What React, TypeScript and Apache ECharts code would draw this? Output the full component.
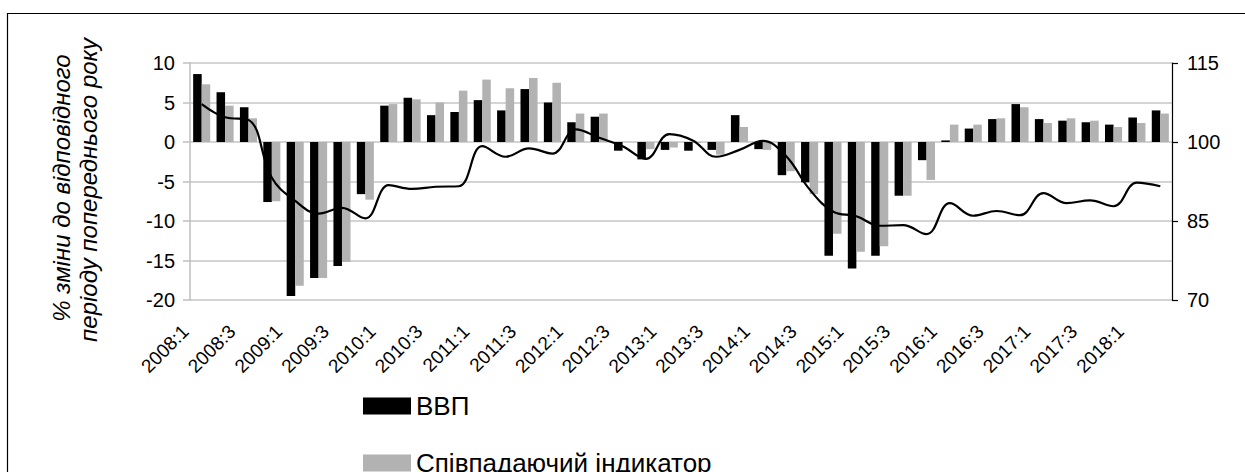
import React, { useEffect, useRef } from "react";
import * as echarts from "echarts";

const categories: string[] = [
  "2008:1","2008:2","2008:3","2008:4",
  "2009:1","2009:2","2009:3","2009:4",
  "2010:1","2010:2","2010:3","2010:4",
  "2011:1","2011:2","2011:3","2011:4",
  "2012:1","2012:2","2012:3","2012:4",
  "2013:1","2013:2","2013:3","2013:4",
  "2014:1","2014:2","2014:3","2014:4",
  "2015:1","2015:2","2015:3","2015:4",
  "2016:1","2016:2","2016:3","2016:4",
  "2017:1","2017:2","2017:3","2017:4",
  "2018:1","2018:2",
];

const gdp: number[] = [
  8.6, 6.3, 4.4, -7.6,
  -19.5, -17.2, -15.7, -6.6,
  4.6, 5.6, 3.4, 3.8,
  5.3, 4.0, 6.7, 5.0,
  2.5, 3.2, -1.1, -2.2,
  -1.0, -1.1, -1.0, 3.4,
  -0.9, -4.2, -5.1, -14.4,
  -16.0, -14.4, -6.8, -2.3,
  0.2, 1.7, 2.9, 4.8,
  2.9, 2.7, 2.5, 2.2,
  3.1, 4.0,
];

const coincident: number[] = [
  7.3, 4.6, 3.0, -7.5,
  -18.2, -17.2, -15.2, -7.3,
  4.8, 5.4, 5.0, 6.5,
  7.9, 6.8, 8.1, 7.5,
  3.6, 3.6, 0.0, -0.9,
  -0.7, -0.1, -1.6, 1.9,
  -1.0, -3.7, -6.6, -11.6,
  -13.9, -13.2, -6.8, -4.8,
  2.2, 2.2, 3.0, 4.4,
  2.4, 3.0, 2.7, 1.9,
  2.4, 3.6,
];

// index values on the right axis
const indexLine: number[] = [
  107.2, 104.7, 104.2, 93.2,
  88.8, 86.4, 87.5, 85.5,
  91.8, 91.1, 91.5, 91.6,
  99.2, 97.2, 98.8, 97.8,
  102.4, 100.8, 99.2, 96.8,
  101.5, 100.3, 97.2, 98.5,
  100.2, 97.3, 91.0, 86.8,
  85.9, 84.1, 84.2, 82.5,
  88.4, 86.0, 86.9, 86.1,
  90.3, 88.4, 88.9, 87.8,
  92.3, 91.6,
];

const leftAxis = { min: -20, max: 10, interval: 5 };
const rightAxis = { base: 70, top: 115, interval: 15 };

const seriesNames = ["ВВП", "Співпадаючий індикатор"];
const yTitle = ["% зміни до відповідного", "періоду попереднього року"];

const FONT = "Liberation Sans, Arial, sans-serif";

export default function App() {
  const ref = useRef<HTMLDivElement>(null);
  useEffect(() => {
    if (!ref.current) return;
    const chart = echarts.init(ref.current, undefined, { renderer: "svg" });
    const legendBase = {
      left: 358,
      itemWidth: 48,
      itemHeight: 17,
      icon: "rect",
      textStyle: { fontSize: 26, fontFamily: FONT, color: "#000" },
    };
    const option: any = {
      animation: false,
      backgroundColor: "#ffffff",
      textStyle: { fontFamily: FONT, color: "#000" },
      grid: { left: 190, right: 73, top: 63, bottom: 172 },
      legend: [
        { ...legendBase, data: [seriesNames[0]], top: 388 },
        { ...legendBase, data: [seriesNames[1]], top: 445 },
      ],
      graphic: [
        {
          type: "rect",
          shape: { x: 7.5, y: 13.5, width: 1400, height: 700 },
          style: { fill: "none", stroke: "#000", lineWidth: 1.2 },
          silent: true,
        },
        {
          type: "text",
          x: 61,
          y: 188,
          rotation: Math.PI / 2,
          style: {
            text: yTitle[0],
            align: "center",
            verticalAlign: "middle",
            font: `italic 24px ${FONT}`,
            fill: "#000",
          },
        },
        {
          type: "text",
          x: 88,
          y: 190,
          rotation: Math.PI / 2,
          style: {
            text: yTitle[1],
            align: "center",
            verticalAlign: "middle",
            font: `italic 24px ${FONT}`,
            fill: "#000",
          },
        },
      ],
      xAxis: {
        type: "category",
        data: categories,
        axisLine: { show: false },
        axisTick: { show: false },
        axisLabel: {
          interval: 1,
          rotate: 45,
          fontSize: 19,
          color: "#000",
          fontFamily: FONT,
          margin: 12,
          padding: [0, 23, 0, 0],
        },
      },
      yAxis: [
        {
          type: "value",
          min: leftAxis.min,
          max: leftAxis.max,
          interval: leftAxis.interval,
          axisLine: { show: true, lineStyle: { color: "#bfbfbf", width: 1.5 } },
          axisTick: { show: true, length: 7, lineStyle: { color: "#bfbfbf", width: 1.5 } },
          splitLine: { show: true, lineStyle: { color: "#c6c6c6", width: 1.5 } },
          axisLabel: { fontSize: 20, color: "#000", fontFamily: FONT, margin: 15 },
        },
        {
          type: "value",
          min: 0,
          max: rightAxis.top - rightAxis.base,
          interval: rightAxis.interval,
          position: "right",
          axisLine: { show: true, lineStyle: { color: "#000", width: 1.2 } },
          axisTick: { show: true, length: 6, lineStyle: { color: "#000", width: 1.2 } },
          splitLine: { show: false },
          axisLabel: {
            fontSize: 20,
            color: "#000",
            fontFamily: FONT,
            margin: 15,
            formatter: (v: number) => String(v + rightAxis.base),
          },
        },
      ],
      series: [
        {
          name: seriesNames[0],
          type: "bar",
          data: gdp,
          itemStyle: { color: "#000000" },
          barGap: "0%",
          barCategoryGap: "27%",
        },
        {
          name: seriesNames[1],
          type: "bar",
          data: coincident,
          itemStyle: { color: "#b2b2b2" },
          barGap: "0%",
          barCategoryGap: "27%",
        },
        {
          name: "Індекс",
          type: "line",
          yAxisIndex: 1,
          data: indexLine.map((v) => v - rightAxis.base),
          smooth: 0.4,
          showSymbol: false,
          symbol: "none",
          lineStyle: { color: "#000", width: 2.2 },
        },
      ],
    };
    chart.setOption(option);
    return () => chart.dispose();
  }, []);
  return (
    <div
      ref={ref}
      style={{ position: "absolute", left: 0, top: 0, width: 1245, height: 472 }}
    />
  );
}
